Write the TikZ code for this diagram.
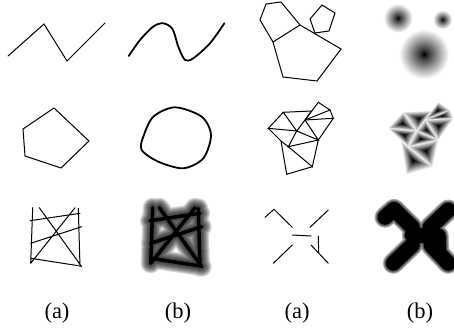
\documentclass[tikz,border=0pt]{standalone}
\usepackage{fontspec}
\setmainfont{Liberation Serif}
\usetikzlibrary{calc}
\pgfdeclareradialshading{softdot}{\pgfpoint{0bp}{0bp}}{color(0bp)=(black); color(5bp)=(black!75); color(14bp)=(black!40); color(25bp)=(white); color(50bp)=(white)}
\tikzset{
  thinstroke/.style={line width=1pt},
  thickstroke/.style={line width=1.8pt},
  lbl/.style={font=\fontsize{22.5}{26}\selectfont, anchor=base, inner sep=0pt},
}
\newcommand{\gridlines}[1]{%
  \draw[#1] (32.7,207.7) -- (30.7,263.3)
    (39.3,207.7) -- (81.7,266.7)
    (30,220.7) -- (80,213.3)
    (30.7,243.3) -- (81.7,226.7)
    (30.7,258.3) -- (78.3,265.7)
    (30.7,263.3) -- (75,207.7)
    (78.3,208.3) -- (80,266.7);}
\newcommand{\xlines}[1]{%
  \draw[#1] (265,217.3) -- (274,209.3) -- (292.3,227.3)
    (310,227.3) -- (328.3,210)
    (292.3,235) -- (311,236)
    (292.3,245) -- (273.3,263.3)
    (318.3,236) -- (318.7,253.3)
    (311,245) -- (328.3,263.3);}
\newcommand{\shadepoly}[3]{%
  \foreach \k in {0,...,15}{%
    \pgfmathsetmacro\f{1-\k/16}%
    \pgfmathsetmacro\g{8+92*\k/15}%
    \begin{scope}[shift={(#1,#2)}, scale=\f, shift={(-#1,-#2)}]
      \fill[black!\g!white] #3 -- cycle;
    \end{scope}
  }}
\newcommand{\blurdot}[3]{%
  \shade[shading=softdot] (#1,#2) circle (#3pt);}
\begin{document}
\begin{tikzpicture}[x=1pt,y=-1pt,line cap=round,line join=round]
\useasboundingbox (0,0) rectangle (454,329);

% column 1 / 2 : row 1
\draw[thinstroke, line join=miter] (8,56) -- (44,24) -- (67,61) -- (105,23);
\draw[thickstroke] plot[smooth] coordinates {(128.7,56) (140,40) (153.3,26.5) (163.3,23.3) (172.5,29) (178.3,46.7) (185,60) (193.3,58.3) (210,43.3) (224.3,23.3)};

% row 2
\draw[thinstroke, line join=miter] (54,108) -- (89,141) -- (61,168) -- (25,156) -- (23,129) -- cycle;
\draw[thickstroke] plot[smooth cycle] coordinates {(175,107.3) (201.7,116.7) (211,135) (203.3,158.3) (183.3,168.3) (158.3,161.7) (141.7,150) (143.3,136.7) (153.3,116.7)};

% row 3
\gridlines{thinstroke}
\begin{scope}[xshift=120pt]
  \foreach \w in {20,18,...,6}{\gridlines{line width=\w pt, draw opacity=0.15}}
  \gridlines{line width=3.5pt}
\end{scope}

% column 3 / 4 : row 1
\draw[thinstroke, line join=miter] (273,42) -- (300,25) -- (341,49) -- (317,81) -- (283,77) -- cycle;
\draw[thinstroke, line join=miter] (273,42) -- (260,20) -- (266,4) -- (281,2) -- (300,25);
\draw[thinstroke, line join=miter] (315,33) -- (310,19) -- (322,5) -- (335,13) -- (329,31) -- cycle;
\blurdot{424}{54}{25}
\blurdot{398}{18}{14.5}
\blurdot{442.5}{19.5}{9.5}

% row 2 : mesh
\begin{scope}[thinstroke, line join=miter]
  \coordinate (A) at (268.3,128.3);
  \coordinate (B) at (283.3,112.3);
  \coordinate (C) at (311.5,111);
  \coordinate (D) at (318.3,102.3);
  \coordinate (E) at (330,110);
  \coordinate (F) at (333.3,118.3);
  \coordinate (G) at (305,120);
  \coordinate (H) at (296.7,131);
  \coordinate (J) at (281,141);
  \coordinate (I) at (288.3,146.7);
  \coordinate (K) at (318.3,140);
  \coordinate (L) at (312.3,166.7);
  \coordinate (M) at (286.7,174.3);
  \draw (A) -- (B) -- (H) -- cycle;
  \draw (B) -- (C) -- (G) -- (H);
  \draw (G) -- (K) -- (H);
  \draw (K) -- (I) -- (H);
  \draw (A) -- (J) -- (I);
  \draw (K) -- (L) -- (I);
  \draw (J) -- (M) -- (L);
  \draw (G) -- (D) -- (E) -- cycle;
  \draw (G) -- (F) -- (E);
  \draw (F) -- (K);
\end{scope}
\begin{scope}[xshift=120pt]
  \shadepoly{282.8}{123.9}{(268.3,128.3) -- (283.3,112.3) -- (296.7,131)}
  \shadepoly{299.5}{119}{(283.3,112.3) -- (311.5,111) -- (305,120) -- (296.7,131)}
  \shadepoly{306.7}{130.3}{(305,120) -- (318.3,140) -- (296.7,131)}
  \shadepoly{301.1}{139.2}{(296.7,131) -- (318.3,140) -- (288.3,146.7)}
  \shadepoly{284.4}{135.3}{(268.3,128.3) -- (296.7,131) -- (288.3,146.7)}
  \shadepoly{306.3}{151.1}{(288.3,146.7) -- (318.3,140) -- (312.3,166.7)}
  \shadepoly{293.3}{160.7}{(281,141) -- (312.3,166.7) -- (286.7,174.3)}
  \shadepoly{317.8}{110.8}{(305,120) -- (318.3,102.3) -- (330,110)}
  \shadepoly{322.8}{116.1}{(305,120) -- (330,110) -- (333.3,118.3)}
  \shadepoly{318.9}{126.1}{(305,120) -- (333.3,118.3) -- (318.3,140)}
\end{scope}

% row 3 : X
\xlines{thinstroke, line join=miter}
\begin{scope}[xshift=120pt]
  \foreach \w in {21,19,17}{\xlines{line width=\w pt, draw opacity=0.3}}
  \xlines{line width=15pt}
\end{scope}

% labels
\node[lbl] (la1) at (57,318) {(a)};
\node[lbl] (lb1) at (178,318) {(b)};
\node[lbl] (la2) at (297,318) {(a)};
\node[lbl] (lb2) at (420,318) {(b)};
\end{tikzpicture}
\end{document}
